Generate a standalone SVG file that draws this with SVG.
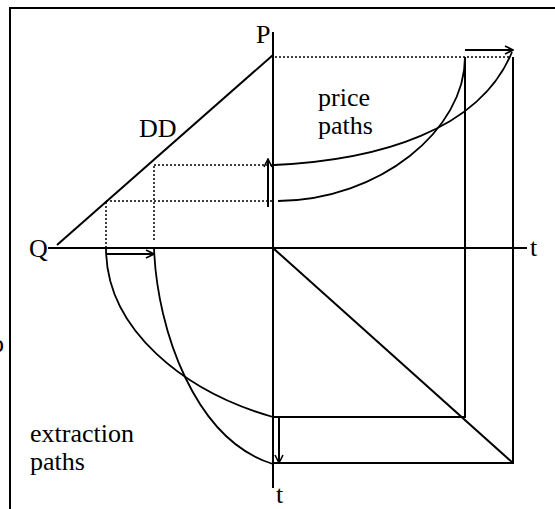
<svg xmlns="http://www.w3.org/2000/svg" width="555" height="509" viewBox="0 0 555 509">
<style>
.ln{stroke:#000;stroke-width:2;fill:none}
.cv{stroke:#000;stroke-width:1.8;fill:none}
.dt{stroke:#000;stroke-width:1.5;fill:none;stroke-dasharray:2,2}
.ar{stroke:#000;stroke-width:2;fill:none;marker-end:url(#ah)}
text{font-family:"Liberation Serif","Times New Roman",serif;font-size:26px;fill:#000}
</style>
<defs>
<marker id="ah" viewBox="0 0 10 10" refX="9" refY="5" markerWidth="10" markerHeight="10" markerUnits="userSpaceOnUse" orient="auto">
<path d="M1,1 L9,5 L1,9" fill="none" stroke="#000" stroke-width="1.6"/>
</marker>
</defs>
<rect width="555" height="509" fill="#fff"/>
<g id="frame">
<path class="ln" d="M555,8 H10 V509"/>
<text x="-9" y="352">o</text>
</g>
<g id="axes">
<path class="ln" d="M273,32 V488"/>
<path class="ln" d="M48,248 H527"/>
<text x="256" y="43">P</text>
<text x="29" y="257">Q</text>
<text x="530" y="256">t</text>
<text x="276" y="503">t</text>
</g>
<g id="demand">
<path class="ln" d="M57,245 L273,55"/>
<text x="139" y="137">DD</text>
</g>
<g id="guides">
<path class="dt" d="M275,57 H510"/>
<path class="dt" d="M154,165 H272 M154,166 V240"/>
<path class="dt" d="M106,201 H272 M106,202 V248"/>
</g>
<g id="price-paths">
<path class="cv" d="M274,165 C380,160 480,130 512,52"/>
<path class="cv" d="M278,201 C380,200 465,130 465,57"/>
<text x="318" y="106">price</text>
<text x="318" y="134">paths</text>
</g>
<g id="boxes">
<path class="ln" d="M465,57 V417 H273"/>
<path class="ln" d="M513,57 V463 H273"/>
<path class="ln" d="M273,248 L513,463"/>
</g>
<g id="extraction-paths">
<path class="cv" d="M106,248 C106,330 185,392 273,417"/>
<path class="cv" d="M154,248 C157,330 195,440 273,464"/>
<text x="30" y="442">extraction</text>
<text x="30" y="470">paths</text>
</g>
<g id="connectors">
<path class="ar" d="M268,207 V159"/>
<path class="ar" d="M465,50 H513"/>
<path class="ar" d="M106,254 H154"/>
<path class="ar" d="M279,417 V463"/>
</g>
</svg>
